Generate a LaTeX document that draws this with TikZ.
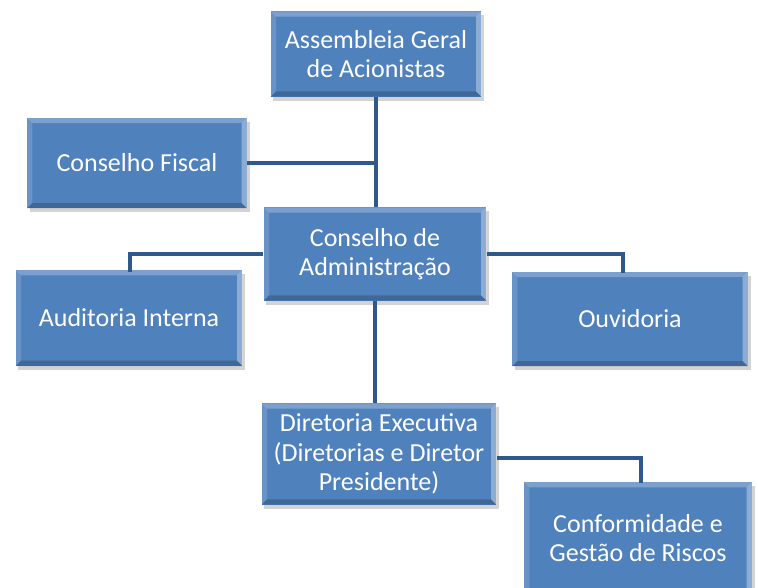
\documentclass[tikz,border=0pt]{standalone}
\usepackage{fontspec}
\setmainfont{Carlito}
\usetikzlibrary{shadows}

\definecolor{boxblue}{RGB}{79,129,189}
\definecolor{lineblue}{RGB}{47,89,138}

\begin{document}
\begin{tikzpicture}[x=0.75pt, y=-0.75pt,
	orgbox/.style={rectangle, fill=boxblue, text=white, align=center, font=\fontsize{19.5}{22}\selectfont,
		inner sep=1pt, drop shadow={shadow xshift=2pt, shadow yshift=-3pt, opacity=0.35},
		path picture={
			\fill[white, opacity=0.25] (path picture bounding box.north west) -- (path picture bounding box.north east)
				-- ([shift={(-4pt,-4pt)}]path picture bounding box.north east) -- ([shift={(4pt,-4pt)}]path picture bounding box.north west) -- cycle;
			\fill[white, opacity=0.15] (path picture bounding box.north west) -- ([shift={(4pt,-4pt)}]path picture bounding box.north west)
				-- ([shift={(4pt,4pt)}]path picture bounding box.south west) -- (path picture bounding box.south west) -- cycle;
			\fill[white, opacity=0.35] (path picture bounding box.north east) -- ([shift={(-4pt,-4pt)}]path picture bounding box.north east)
				-- ([shift={(-4pt,4pt)}]path picture bounding box.south east) -- (path picture bounding box.south east) -- cycle;
			\fill[black, opacity=0.2] (path picture bounding box.south west) -- (path picture bounding box.south east)
				-- ([shift={(-4pt,4pt)}]path picture bounding box.south east) -- ([shift={(4pt,4pt)}]path picture bounding box.south west) -- cycle;
		}},
	link/.style={draw=lineblue, line width=3pt}]
	\useasboundingbox (0,0) rectangle (758,587);

	% boxes
	\node[orgbox, minimum width=158pt, minimum height=64pt] (assembleia) at (376,54) {Assembleia Geral\\de Acionistas};
	\node[orgbox, minimum width=165pt, minimum height=68pt] (fiscal) at (137,163) {Conselho Fiscal};
	\node[orgbox, minimum width=167pt, minimum height=70pt] (adm) at (375,254) {Conselho de\\Administração};
	\node[orgbox, minimum width=170pt, minimum height=72pt] (auditoria) at (129,318) {Auditoria Interna};
	\node[orgbox, minimum width=177pt, minimum height=71pt] (ouvidoria) at (630,319) {Ouvidoria};
	\node[orgbox, minimum width=176pt, minimum height=76pt] (diretoria) at (379,454) {Diretoria Executiva\\(Diretorias e Diretor\\Presidente)};
	\node[orgbox, minimum width=171pt, minimum height=84pt] (conformidade) at (638,538) {Conformidade e\\Gestão de Riscos};

	% connectors
	\draw[link] (assembleia.south) -- (assembleia.south |- adm.north);
	\draw[link] (fiscal.east) -- (fiscal.east -| assembleia.south);
	\draw[link] (adm.west) -| (130,272) coordinate (audtop);
	\draw[link] (adm.east) -| (623,273) coordinate (ouvtop);
	\draw[link] (adm.south) -- (adm.south |- diretoria.north);
	\draw[link] ([yshift=-3pt]diretoria.east) -| (641,483) coordinate (conftop);
\end{tikzpicture}
\end{document}
